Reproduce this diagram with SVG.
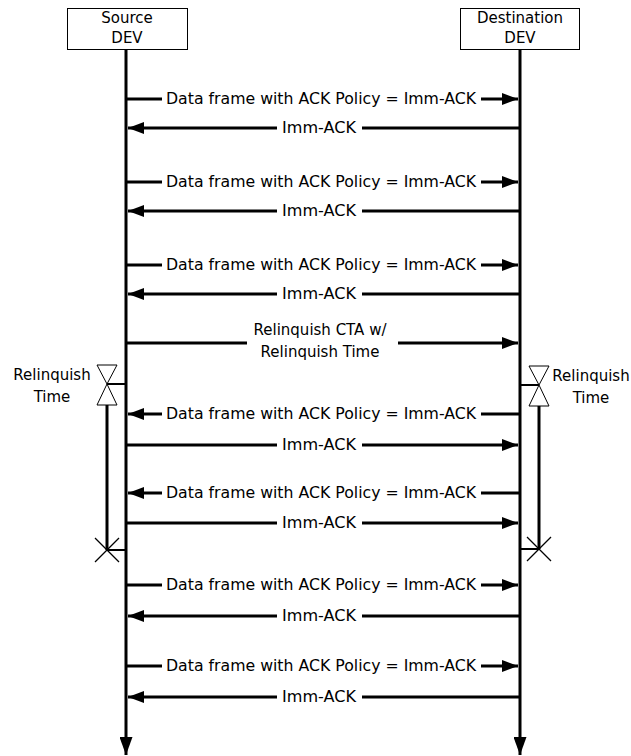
<svg xmlns="http://www.w3.org/2000/svg" width="631" height="756" viewBox="0 0 631 756">
<style>
text{font-family:"DejaVu Sans","Liberation Sans",sans-serif;font-size:15px;fill:#000}
.box{fill:#fff;stroke:#000;stroke-width:1}
.life{stroke:#000;stroke-width:3;fill:none}
.msg{stroke:#000;stroke-width:3;fill:none}
.thin{stroke:#000;stroke-width:1;fill:#fff}
.tick{stroke:#000;stroke-width:1.2;fill:none}
.mid{text-anchor:middle}
</style>
<defs>
<marker id="ah" markerUnits="userSpaceOnUse" viewBox="0 0 16 12" markerWidth="16" markerHeight="12" refX="16" refY="6" orient="auto">
<path d="M0,0 L16,6 L0,12 Z" fill="#000"/>
</marker>
<marker id="ahb" markerUnits="userSpaceOnUse" viewBox="0 0 18 13" markerWidth="18" markerHeight="13" refX="18" refY="6.5" orient="auto">
<path d="M0,0 L18,6.5 L0,13 Z" fill="#000"/>
</marker>
</defs>
<rect width="631" height="756" fill="#fff"/>

<g id="source">
<rect class="box" x="67.5" y="8.5" width="120" height="41"/>
<text class="mid" x="127" y="23">Source</text>
<text class="mid" x="127" y="43">DEV</text>
<line class="life" x1="126" y1="49" x2="126" y2="755" marker-end="url(#ahb)"/>
</g>

<g id="destination">
<rect class="box" x="460.5" y="8.5" width="119" height="41"/>
<text class="mid" x="520" y="23">Destination</text>
<text class="mid" x="520" y="43">DEV</text>
<line class="life" x1="520" y1="49" x2="520" y2="755" marker-end="url(#ahb)"/>
</g>

<g id="relinquish-left">
<polygon class="thin" points="97,365 117,365 107,384"/>
<polygon class="thin" points="107,384 97,405 117,405"/>
<line class="msg" x1="107" y1="384" x2="126" y2="384" style="stroke-width:2"/>
<line class="msg" x1="107" y1="405" x2="107" y2="550"/>
<line class="msg" x1="107" y1="550" x2="126" y2="550" style="stroke-width:2"/>
<line class="tick" x1="95" y1="538" x2="119" y2="562"/>
<line class="tick" x1="119" y1="538" x2="95" y2="562"/>
<text class="mid" x="52" y="380">Relinquish</text>
<text class="mid" x="52" y="402">Time</text>
</g>

<g id="relinquish-right">
<polygon class="thin" points="529,366 549,366 539,385"/>
<polygon class="thin" points="539,385 529,406 549,406"/>
<line class="msg" x1="520" y1="385" x2="539" y2="385" style="stroke-width:2"/>
<line class="msg" x1="539" y1="406" x2="539" y2="549"/>
<line class="msg" x1="520" y1="549" x2="539" y2="549" style="stroke-width:2"/>
<line class="tick" x1="527" y1="537" x2="551" y2="561"/>
<line class="tick" x1="551" y1="537" x2="527" y2="561"/>
<text class="mid" x="591" y="381">Relinquish</text>
<text class="mid" x="591" y="403">Time</text>
</g>

<g id="connectors">
<!-- 1 -->
<line class="msg" x1="127" y1="99" x2="162" y2="99"/>
<line class="msg" x1="481" y1="99" x2="518" y2="99" marker-end="url(#ah)"/>
<text x="166" y="104" textLength="310" lengthAdjust="spacingAndGlyphs">Data frame with ACK Policy = Imm-ACK</text>
<line class="msg" x1="520" y1="128" x2="362" y2="128"/>
<line class="msg" x1="277" y1="128" x2="128" y2="128" marker-end="url(#ah)"/>
<text x="282" y="133" textLength="74" lengthAdjust="spacingAndGlyphs">Imm-ACK</text>
<!-- 2 -->
<line class="msg" x1="127" y1="182" x2="162" y2="182"/>
<line class="msg" x1="481" y1="182" x2="518" y2="182" marker-end="url(#ah)"/>
<text x="166" y="187" textLength="310" lengthAdjust="spacingAndGlyphs">Data frame with ACK Policy = Imm-ACK</text>
<line class="msg" x1="520" y1="211" x2="362" y2="211"/>
<line class="msg" x1="277" y1="211" x2="128" y2="211" marker-end="url(#ah)"/>
<text x="282" y="216" textLength="74" lengthAdjust="spacingAndGlyphs">Imm-ACK</text>
<!-- 3 -->
<line class="msg" x1="127" y1="265" x2="162" y2="265"/>
<line class="msg" x1="481" y1="265" x2="518" y2="265" marker-end="url(#ah)"/>
<text x="166" y="270" textLength="310" lengthAdjust="spacingAndGlyphs">Data frame with ACK Policy = Imm-ACK</text>
<line class="msg" x1="520" y1="294" x2="362" y2="294"/>
<line class="msg" x1="277" y1="294" x2="128" y2="294" marker-end="url(#ah)"/>
<text x="282" y="299" textLength="74" lengthAdjust="spacingAndGlyphs">Imm-ACK</text>
<!-- relinquish CTA -->
<line class="msg" x1="127" y1="343" x2="247" y2="343"/>
<line class="msg" x1="398" y1="343" x2="518" y2="343" marker-end="url(#ah)"/>
<text class="mid" x="320" y="335">Relinquish CTA w/</text>
<text class="mid" x="320" y="357">Relinquish Time</text>
<!-- 4 (reversed) -->
<line class="msg" x1="520" y1="414" x2="481" y2="414"/>
<line class="msg" x1="162" y1="414" x2="128" y2="414" marker-end="url(#ah)"/>
<text x="166" y="419" textLength="310" lengthAdjust="spacingAndGlyphs">Data frame with ACK Policy = Imm-ACK</text>
<line class="msg" x1="127" y1="445" x2="277" y2="445"/>
<line class="msg" x1="362" y1="445" x2="518" y2="445" marker-end="url(#ah)"/>
<text x="282" y="450" textLength="74" lengthAdjust="spacingAndGlyphs">Imm-ACK</text>
<!-- 5 (reversed) -->
<line class="msg" x1="520" y1="493" x2="481" y2="493"/>
<line class="msg" x1="162" y1="493" x2="128" y2="493" marker-end="url(#ah)"/>
<text x="166" y="498" textLength="310" lengthAdjust="spacingAndGlyphs">Data frame with ACK Policy = Imm-ACK</text>
<line class="msg" x1="127" y1="523" x2="277" y2="523"/>
<line class="msg" x1="362" y1="523" x2="518" y2="523" marker-end="url(#ah)"/>
<text x="282" y="528" textLength="74" lengthAdjust="spacingAndGlyphs">Imm-ACK</text>
<!-- 6 -->
<line class="msg" x1="127" y1="585" x2="162" y2="585"/>
<line class="msg" x1="481" y1="585" x2="518" y2="585" marker-end="url(#ah)"/>
<text x="166" y="590" textLength="310" lengthAdjust="spacingAndGlyphs">Data frame with ACK Policy = Imm-ACK</text>
<line class="msg" x1="520" y1="616" x2="362" y2="616"/>
<line class="msg" x1="277" y1="616" x2="128" y2="616" marker-end="url(#ah)"/>
<text x="282" y="621" textLength="74" lengthAdjust="spacingAndGlyphs">Imm-ACK</text>
<!-- 7 -->
<line class="msg" x1="127" y1="666" x2="162" y2="666"/>
<line class="msg" x1="481" y1="666" x2="518" y2="666" marker-end="url(#ah)"/>
<text x="166" y="671" textLength="310" lengthAdjust="spacingAndGlyphs">Data frame with ACK Policy = Imm-ACK</text>
<line class="msg" x1="520" y1="697" x2="362" y2="697"/>
<line class="msg" x1="277" y1="697" x2="128" y2="697" marker-end="url(#ah)"/>
<text x="282" y="702" textLength="74" lengthAdjust="spacingAndGlyphs">Imm-ACK</text>
</g>
</svg>
